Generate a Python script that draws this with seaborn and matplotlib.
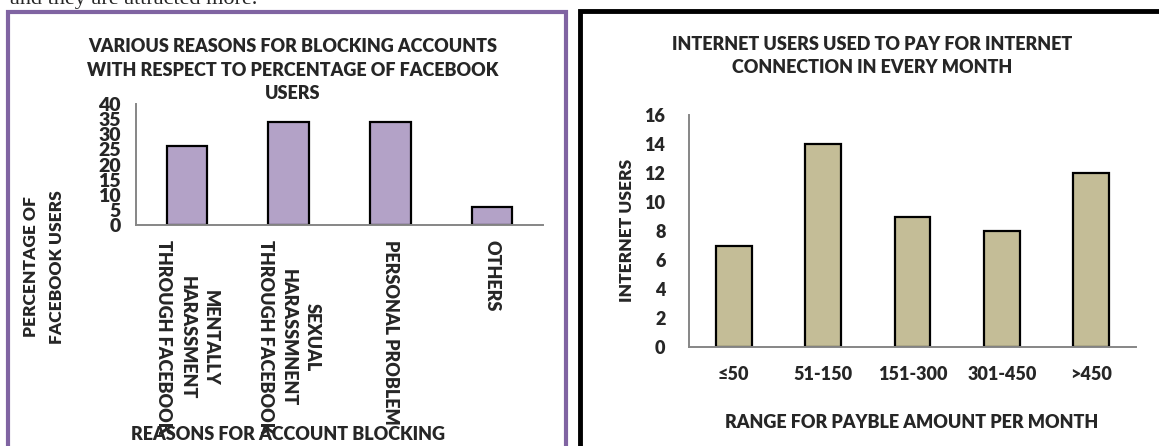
import numpy as np
import pandas as pd
import matplotlib
matplotlib.use("Agg")
import matplotlib.pyplot as plt
import seaborn as sns
from matplotlib.patches import Rectangle

# ---------------- data ----------------
reasons = ["MENTALLY\nHARASSMENT\nTHROUGH FACEBOOK",
           "SEXUAL\nHARASSMNENT\nTHROUGH FACEBOOK",
           "PERSONAL PROBLEM",
           "OTHERS"]
reason_pct = [26, 34, 34, 6]
pct_ticks = [0, 5, 10, 15, 20, 25, 30, 35, 40]

pay_ranges = ["≤50", "51-150", "151-300", "301-450", ">450"]
pay_users = [7, 14, 9, 8, 12]
user_ticks = [0, 2, 4, 6, 8, 10, 12, 14, 16]

title_left = "VARIOUS REASONS FOR BLOCKING ACCOUNTS\nWITH RESPECT TO PERCENTAGE OF FACEBOOK\nUSERS"
title_right = "INTERNET USERS USED TO PAY FOR INTERNET\nCONNECTION IN EVERY MONTH"
ylabel_left = "PERCENTAGE OF\nFACEBOOK USERS"
xlabel_left = "REASONS FOR ACCOUNT BLOCKING"
ylabel_right = "INTERNET USERS"
xlabel_right = "RANGE FOR PAYBLE AMOUNT PER MONTH"
top_text = "and they are attracted more."

df_left = pd.DataFrame({"reason": reasons, "pct": reason_pct})
df_right = pd.DataFrame({"range": pay_ranges, "users": pay_users})

# ---------------- style ----------------
sns.set_style("white")
FONT = ["Lato", "DejaVu Sans"]
WEIGHT = "heavy"
plt.rcParams["font.family"] = FONT
plt.rcParams["font.weight"] = WEIGHT

W, H = 1159, 446
fig = plt.figure(figsize=(W / 100, H / 100), dpi=100)


def rect(l, t, r, b):
    return [l / W, 1 - b / H, (r - l) / W, (b - t) / H]


def fx(px):
    return px / W


def fy(py):
    return 1 - py / H


AXIS_GRAY = "#868686"


def style_axes(ax, n, ylim, yticks, ysize, ypad):
    ax.set_ylim(*ylim)
    ax.set_yticks(yticks)
    ax.set_yticklabels([str(t) for t in yticks], fontsize=ysize, fontweight=WEIGHT)
    ax.set_xlim(-0.5, n - 0.5)
    ax.set_xticks(np.arange(n + 1) - 0.5, minor=True)
    for s in ["top", "right"]:
        ax.spines[s].set_visible(False)
    for s in ["left", "bottom"]:
        ax.spines[s].set_color(AXIS_GRAY)
        ax.spines[s].set_linewidth(1.4)
    ax.tick_params(axis="x", which="major", length=0)
    ax.tick_params(axis="x", which="minor", length=6, width=1.4,
                   color=AXIS_GRAY, direction="out")
    ax.tick_params(axis="y", which="major", length=6, width=1.4,
                   color=AXIS_GRAY, direction="out", pad=ypad)
    ax.grid(False)
    ax.set_facecolor("none")


# ---------------- left chart ----------------
ax1 = fig.add_axes(rect(136, 104, 543, 225))
sns.barplot(data=df_left, x="reason", y="pct", color="#B3A2C7", saturation=1,
            edgecolor="black", linewidth=1.6, width=0.4, ax=ax1)
style_axes(ax1, len(reasons), (0, 40), pct_ticks, 14, 5)
ax1.set_xticks(range(len(reasons)))
ax1.set_xticklabels(reasons, rotation=270, ha="center", va="top",
                    multialignment="center", fontsize=13, fontweight=WEIGHT,
                    linespacing=1.45)
ax1.tick_params(axis="x", which="major", pad=11)
ax1.set_ylabel(ylabel_left, fontsize=12.5, fontweight=WEIGHT, linespacing=1.75)
ax1.yaxis.set_label_coords(fx(44), fy(267), transform=fig.transFigure)
ax1.yaxis.label.set_va("center")
ax1.set_xlabel(xlabel_left, fontsize=13, fontweight=WEIGHT)
ax1.xaxis.set_label_coords(fx(288), fy(435), transform=fig.transFigure)
ax1.xaxis.label.set_va("center")
fig.text(fx(293), fy(70), title_left, ha="center", va="center",
         multialignment="center", fontsize=13, fontweight=WEIGHT, linespacing=1.45)

# ---------------- right chart ----------------
ax2 = fig.add_axes(rect(689, 115, 1136, 347))
sns.barplot(data=df_right, x="range", y="users", color="#C4BD97", saturation=1,
            edgecolor="black", linewidth=1.6, width=0.4, ax=ax2)
style_axes(ax2, len(pay_ranges), (0, 16), user_ticks, 13, 11)
ax2.set_xticks(range(len(pay_ranges)))
ax2.set_xticklabels(pay_ranges, fontsize=13, fontweight=WEIGHT)
ax2.tick_params(axis="x", which="major", pad=14)
ax2.set_ylabel(ylabel_right, fontsize=12.5, fontweight=WEIGHT)
ax2.yaxis.set_label_coords(fx(627), fy(230), transform=fig.transFigure)
ax2.yaxis.label.set_va("center")
ax2.set_xlabel(xlabel_right, fontsize=13, fontweight=WEIGHT)
ax2.xaxis.set_label_coords(fx(912), fy(422), transform=fig.transFigure)
ax2.xaxis.label.set_va("center")
fig.text(fx(872), fy(56), title_right, ha="center", va="center",
         multialignment="center", fontsize=13, fontweight=WEIGHT, linespacing=1.45)

# ---------------- frames and page text ----------------
fig.add_artist(Rectangle((fx(8), -0.1), fx(566 - 8), fy(12) + 0.1, fill=False,
                         edgecolor="#8064A2", linewidth=3, transform=fig.transFigure))
fig.add_artist(Rectangle((fx(580), -0.1), fx(1250 - 580), fy(11) + 0.1, fill=False,
                         edgecolor="black", linewidth=3.5, transform=fig.transFigure))
fig.text(fx(10), fy(4), top_text, ha="left", va="baseline",
         family=["Liberation Serif", "DejaVu Serif"], fontweight="normal",
         fontsize=16)

fig.savefig("out.png", dpi=100)
